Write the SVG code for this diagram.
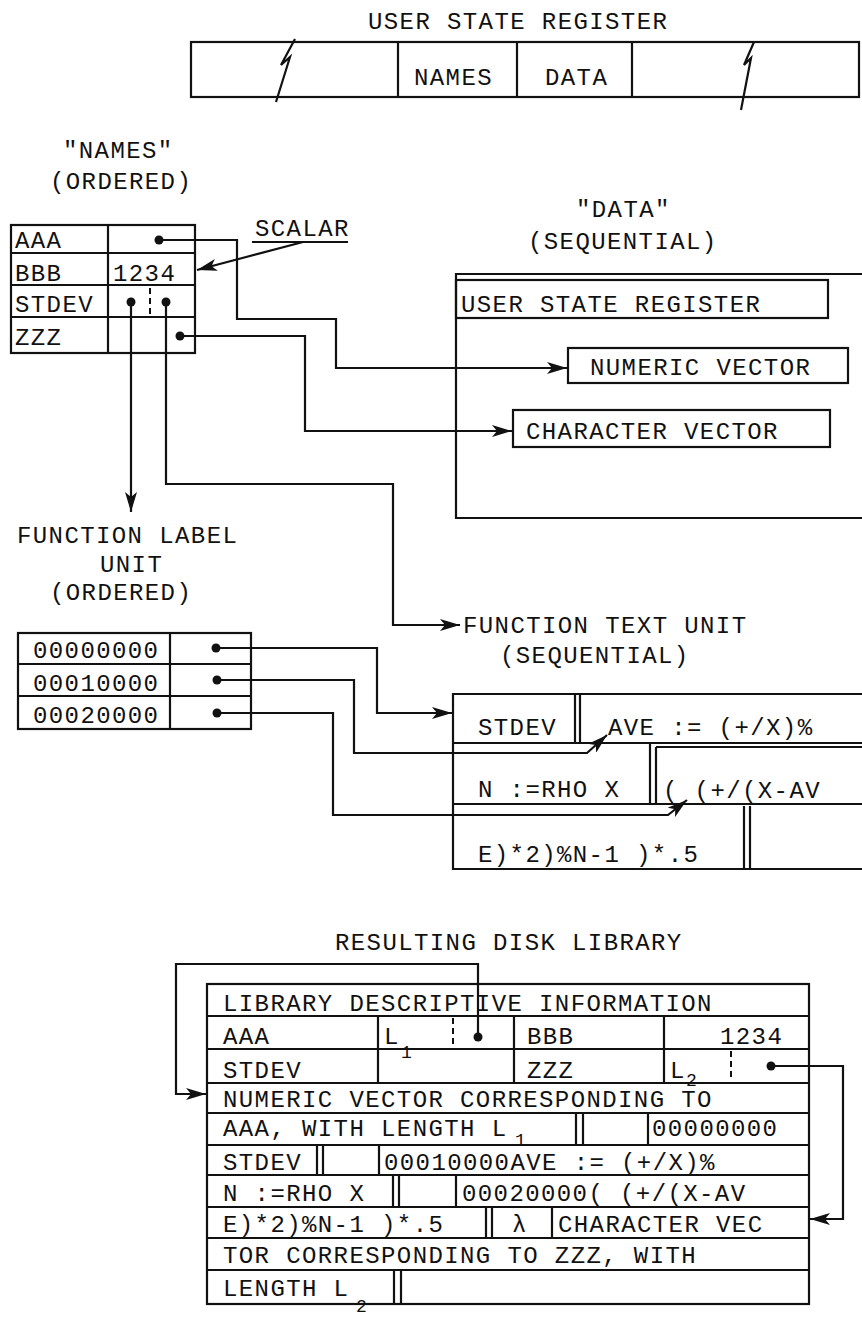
<svg xmlns="http://www.w3.org/2000/svg" width="862" height="1319" viewBox="0 0 862 1319">
<style>
text{font-family:"Liberation Mono","DejaVu Sans Mono",monospace;font-size:24px;letter-spacing:1.4px;fill:#111}
.sub{font-size:18px;letter-spacing:0}
.ln{fill:none;stroke:#111;stroke-width:2.2;stroke-linejoin:miter}
.dash{fill:none;stroke:#111;stroke-width:2;stroke-dasharray:6 4}
.dot{fill:#111}
</style>
<defs>
<marker id="ah" viewBox="0 0 20 12" refX="20" refY="6" markerWidth="20" markerHeight="12" markerUnits="userSpaceOnUse" orient="auto">
<path d="M0,0 L20,6 L0,12 L5,6 z" fill="#111"/>
</marker>
</defs>
<rect width="862" height="1319" fill="#fff"/>

<g id="user-state-register">
<text x="368" y="29">USER STATE REGISTER</text>
<rect class="ln" x="191" y="42" width="668" height="55"/>
<path class="ln" d="M398,42 V97 M517,42 V97 M632,42 V97"/>
<text x="414" y="85">NAMES</text>
<text x="545" y="85">DATA</text>
<path class="ln" d="M295,39 L281,65 L290,57 L276,102"/>
<path class="ln" d="M754,42 L744,65 L751,58 L741,110"/>
</g>

<g id="names-table">
<text x="63" y="158">"NAMES"</text>
<text x="50" y="189">(ORDERED)</text>
<rect class="ln" x="11" y="225" width="184" height="128"/>
<path class="ln" d="M11,253 H195 M11,285 H195 M11,317 H195 M108,225 V353"/>
<text x="15" y="248">AAA</text>
<text x="15" y="281">BBB</text>
<text x="113" y="281">1234</text>
<text x="15" y="312">STDEV</text>
<text x="15" y="345">ZZZ</text>
<path class="dash" d="M150,288 V316"/>
<circle class="dot" cx="159" cy="240" r="4.5"/>
<circle class="dot" cx="131" cy="302" r="4.5"/>
<circle class="dot" cx="166" cy="302" r="4.5"/>
<circle class="dot" cx="180" cy="336" r="4.5"/>
</g>

<g id="scalar-label">
<text x="255" y="236">SCALAR</text>
<path class="ln" d="M252,242 H348"/>
</g>

<g id="data-area">
<text x="576" y="217">"DATA"</text>
<text x="528" y="249">(SEQUENTIAL)</text>
<path class="ln" d="M862,274 H456 V518 H862"/>
<rect class="ln" x="456" y="280" width="372" height="38"/>
<text x="461" y="312">USER STATE REGISTER</text>
</g>

<g id="numeric-vector">
<rect class="ln" x="568" y="348" width="280" height="35"/>
<text x="590" y="375">NUMERIC VECTOR</text>
</g>

<g id="character-vector">
<rect class="ln" x="513" y="410" width="317" height="37"/>
<text x="526" y="439">CHARACTER VECTOR</text>
</g>

<g id="function-label-unit">
<text x="17" y="543">FUNCTION LABEL</text>
<text x="100" y="572">UNIT</text>
<text x="50" y="600">(ORDERED)</text>
<rect class="ln" x="18" y="633" width="233" height="96"/>
<path class="ln" d="M18,664 H251 M18,696 H251 M170,633 V729"/>
<text x="33" y="658">00000000</text>
<text x="33" y="691">00010000</text>
<text x="33" y="723">00020000</text>
<circle class="dot" cx="216" cy="648" r="4.5"/>
<circle class="dot" cx="217" cy="680" r="4.5"/>
<circle class="dot" cx="217" cy="713" r="4.5"/>
</g>

<g id="function-text-unit">
<text x="463" y="633">FUNCTION TEXT UNIT</text>
<text x="500" y="663">(SEQUENTIAL)</text>
<path class="ln" d="M862,694 H453 V869 H862 M453,743 H862 M453,804 H862"/>
<path class="ln" d="M575,694 V743 M580,694 V743 M650,743 V804 M656,747 V804 M744,806 V869 M750,806 V869 M656,747 H862"/>
<text x="478" y="735">STDEV</text>
<text x="608" y="735">AVE := (+/X)%</text>
<text x="478" y="797">N :=RHO X</text>
<text x="663" y="798">( (+/(X-AV</text>
<text x="478" y="862">E)*2)%N-1 )*.5</text>
</g>

<g id="disk-library">
<text x="335" y="950">RESULTING DISK LIBRARY</text>
<rect class="ln" x="207" y="984" width="602" height="320"/>
<path class="ln" d="M207,1016 H809 M207,1049 H809 M207,1083 H809 M207,1113 H809 M207,1145 H809 M207,1175 H809 M207,1207 H809 M207,1238 H809 M207,1270 H809"/>
<path class="ln" d="M378,1016 V1083 M514,1016 V1083 M664,1016 V1083"/>
<path class="dash" d="M453,1018 V1047 M731,1051 V1081"/>
<path class="ln" d="M576,1113 V1145 M583,1113 V1145 M648,1113 V1145 M317,1145 V1175 M323,1145 V1175 M379,1145 V1175 M393,1175 V1207 M399,1175 V1207 M456,1175 V1207 M486,1207 V1238 M492,1207 V1238 M552,1207 V1238 M394,1270 V1304 M401,1270 V1304"/>
<text x="223" y="1011">LIBRARY DESCRIPTIVE INFORMATION</text>
<text x="223" y="1044">AAA</text>
<text x="384" y="1044">L</text>
<text class="sub" x="401" y="1058">1</text>
<text x="527" y="1044">BBB</text>
<text x="720" y="1044">1234</text>
<text x="223" y="1078">STDEV</text>
<text x="527" y="1078">ZZZ</text>
<text x="670" y="1078">L</text>
<text class="sub" x="686" y="1086">2</text>
<text x="223" y="1107">NUMERIC VECTOR CORRESPONDING TO</text>
<text x="223" y="1136">AAA, WITH LENGTH L</text>
<text class="sub" x="515" y="1146">1</text>
<text x="652" y="1136">00000000</text>
<text x="223" y="1170">STDEV</text>
<text x="384" y="1170">00010000AVE := (+/X)%</text>
<text x="223" y="1201">N :=RHO X</text>
<text x="462" y="1201">00020000( (+/(X-AV</text>
<text x="223" y="1232">E)*2)%N-1 )*.5</text>
<text x="512" y="1232">λ</text>
<text x="558" y="1232">CHARACTER VEC</text>
<text x="223" y="1263">TOR CORRESPONDING TO ZZZ, WITH</text>
<text x="223" y="1296">LENGTH L</text>
<text class="sub" x="356" y="1312">2</text>
<circle class="dot" cx="478" cy="1037" r="4.5"/>
<circle class="dot" cx="771" cy="1066" r="4.5"/>
</g>

<g id="connectors">
<path class="ln" d="M159,240 H237 V319 H336 V368 H567" marker-end="url(#ah)"/>
<path class="ln" d="M180,336 H305 V431 H512" marker-end="url(#ah)"/>
<path class="ln" d="M131,302 V512" marker-end="url(#ah)"/>
<path class="ln" d="M166,302 V484 H393 V625 H460" marker-end="url(#ah)"/>
<path class="ln" d="M303,242 L197,270" marker-end="url(#ah)"/>
<path class="ln" d="M216,648 H377 V713 H452" marker-end="url(#ah)"/>
<path class="ln" d="M217,680 H354 V753 H587 L607,735" marker-end="url(#ah)"/>
<path class="ln" d="M217,713 H333 V815 H668 L687,800" marker-end="url(#ah)"/>
<path class="ln" d="M478,1037 V964 H176 V1094 H206" marker-end="url(#ah)"/>
<path class="ln" d="M771,1066 H843 V1219 H810" marker-end="url(#ah)"/>
</g>
</svg>
